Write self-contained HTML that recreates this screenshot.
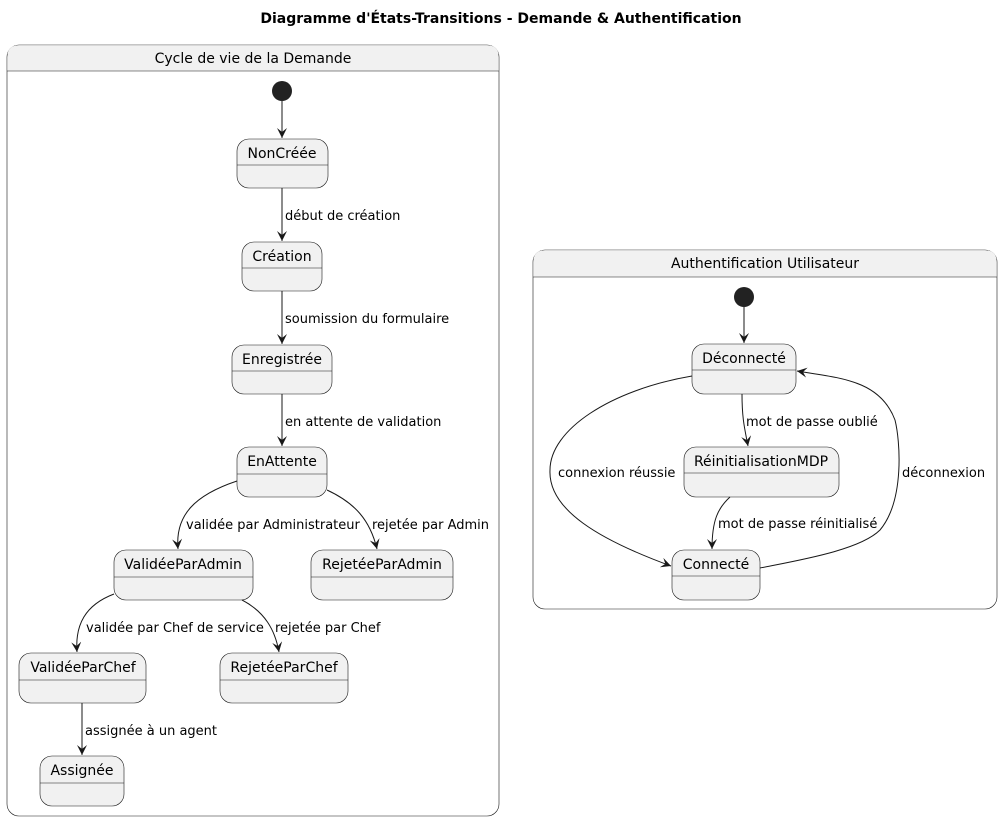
<!DOCTYPE html>
<html><head><meta charset="utf-8"><style>
html,body{margin:0;padding:0;background:#fff;}
svg{display:block;font-family:"DejaVu Sans","Liberation Sans",sans-serif;}
.c{fill:#fff;stroke:#181818;stroke-width:0.6;}
.h{fill:#f1f1f1;}
.s{fill:#f1f1f1;stroke:#181818;stroke-width:0.6;}
.l{stroke:#181818;stroke-width:0.6;}
.e{fill:none;stroke:#181818;stroke-width:1;}
.n{font-size:14px;fill:#000;text-anchor:middle;}
.t{font-size:13px;fill:#000;}
</style></head><body>
<svg width="1002" height="821" viewBox="0 0 1002 821">
<defs><marker id="a" markerWidth="12" markerHeight="12" refX="10" refY="5" orient="auto" markerUnits="userSpaceOnUse"><path d="M0,0 L10,5 L0,10 L4,5 Z" fill="#181818"/></marker></defs>
<text x="501" y="23" font-size="14" font-weight="bold" text-anchor="middle">Diagramme d'États-Transitions - Demande &amp; Authentification</text>

<!-- Left container -->
<rect class="c" x="7" y="45" width="492" height="771" rx="12"/>
<path class="h" d="M7.3,71 L7.3,57 Q7.3,45.3 19,45.3 L487,45.3 Q498.7,45.3 498.7,57 L498.7,71 Z"/>
<line class="l" x1="7" y1="71" x2="499" y2="71"/>
<text class="n" x="253" y="63">Cycle de vie de la Demande</text>
<circle cx="282" cy="91" r="10" fill="#222"/>

<g>
<rect class="s" x="237" y="139" width="91" height="49" rx="12"/><line class="l" x1="237" y1="165" x2="328" y2="165"/><text class="n" x="282" y="158">NonCréée</text>
<rect class="s" x="242" y="242" width="80" height="49" rx="12"/><line class="l" x1="242" y1="268" x2="322" y2="268"/><text class="n" x="282" y="261">Création</text>
<rect class="s" x="232" y="345" width="100" height="49" rx="12"/><line class="l" x1="232" y1="371" x2="332" y2="371"/><text class="n" x="282" y="364">Enregistrée</text>
<rect class="s" x="237" y="447" width="90" height="50" rx="12"/><line class="l" x1="237" y1="474" x2="327" y2="474"/><text class="n" x="282" y="466">EnAttente</text>
<rect class="s" x="114" y="550" width="139" height="50" rx="12"/><line class="l" x1="114" y1="577" x2="253" y2="577"/><text class="n" x="183" y="569">ValidéeParAdmin</text>
<rect class="s" x="311" y="550" width="142" height="50" rx="12"/><line class="l" x1="311" y1="577" x2="453" y2="577"/><text class="n" x="382" y="569">RejetéeParAdmin</text>
<rect class="s" x="19" y="653" width="127" height="50" rx="12"/><line class="l" x1="19" y1="680" x2="146" y2="680"/><text class="n" x="83" y="672">ValidéeParChef</text>
<rect class="s" x="220" y="653" width="128" height="50" rx="12"/><line class="l" x1="220" y1="680" x2="348" y2="680"/><text class="n" x="284" y="672">RejetéeParChef</text>
<rect class="s" x="40" y="756" width="84" height="50" rx="12"/><line class="l" x1="40" y1="783" x2="124" y2="783"/><text class="n" x="82" y="775">Assignée</text>
</g>

<path class="e" d="M282,101 L282,138" marker-end="url(#a)"/>
<path class="e" d="M282,188 L282,241" marker-end="url(#a)"/>
<text class="t" x="285" y="220">début de création</text>
<path class="e" d="M282,291 L282,344" marker-end="url(#a)"/>
<text class="t" x="285" y="323">soumission du formulaire</text>
<path class="e" d="M282,394 L282,446" marker-end="url(#a)"/>
<text class="t" x="285" y="426">en attente de validation</text>
<path class="e" d="M237,481 C195,495 175,515 178,549" marker-end="url(#a)"/>
<text class="t" x="186" y="529">validée par Administrateur</text>
<path class="e" d="M327,490 C355,503 370,520 377,549" marker-end="url(#a)"/>
<text class="t" x="372" y="529">rejetée par Admin</text>
<path class="e" d="M114,594 C85,605 75,625 77,652" marker-end="url(#a)"/>
<text class="t" x="86" y="632">validée par Chef de service</text>
<path class="e" d="M242,600 C265,612 275,630 279,652" marker-end="url(#a)"/>
<text class="t" x="275" y="632">rejetée par Chef</text>
<path class="e" d="M82,703 L82,755" marker-end="url(#a)"/>
<text class="t" x="85" y="735">assignée à un agent</text>

<!-- Right container -->
<rect class="c" x="533" y="250" width="464" height="359" rx="12"/>
<path class="h" d="M533.3,277 L533.3,262 Q533.3,250.3 545,250.3 L985,250.3 Q996.7,250.3 996.7,262 L996.7,277 Z"/>
<line class="l" x1="533" y1="277" x2="997" y2="277"/>
<text class="n" x="765" y="268">Authentification Utilisateur</text>
<circle cx="744" cy="297" r="10" fill="#222"/>
<rect class="s" x="692" y="344" width="104" height="50" rx="12"/><line class="l" x1="692" y1="370" x2="796" y2="370"/><text class="n" x="744" y="363">Déconnecté</text>
<rect class="s" x="684" y="447" width="155" height="50" rx="12"/><line class="l" x1="684" y1="473" x2="839" y2="473"/><text class="n" x="761" y="466">RéinitialisationMDP</text>
<rect class="s" x="672" y="550" width="88" height="50" rx="12"/><line class="l" x1="672" y1="576" x2="760" y2="576"/><text class="n" x="716" y="569">Connecté</text>

<path class="e" d="M744,307 L744,343" marker-end="url(#a)"/>
<path class="e" d="M742,394 C742,420 745,430 748,446" marker-end="url(#a)"/>
<text class="t" x="746" y="426">mot de passe oublié</text>
<path class="e" d="M730,497 C718,508 712,520 712,549" marker-end="url(#a)"/>
<text class="t" x="718" y="528">mot de passe réinitialisé</text>
<path class="e" d="M692,376 C610,390 550,430 550,470 C548,510 600,540 671,566" marker-end="url(#a)"/>
<text class="t" x="558" y="477">connexion réussie</text>
<path class="e" d="M760,568 C800,560 860,550 880,530 C905,500 900,440 895,420 C880,380 840,378 797,371" marker-end="url(#a)"/>
<text class="t" x="902" y="477">déconnexion</text>
</svg>
</body></html>
